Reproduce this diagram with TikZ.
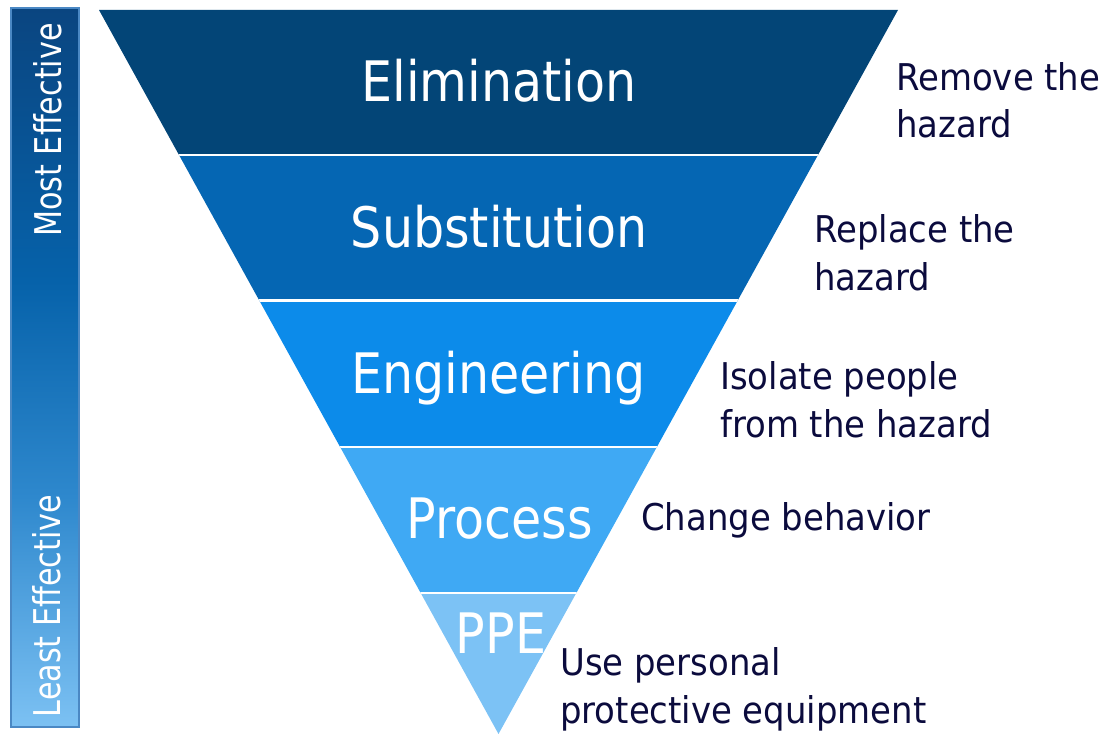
\documentclass[tikz,border=0pt]{standalone}
\usepackage{fontspec}
\setmainfont{DejaVu Sans}
\newfontfamily\titlefont[FakeStretch=0.88]{DejaVu Sans}
\newfontfamily\labelfont[FakeStretch=0.92]{DejaVu Sans}
\newfontfamily\barfont[FakeStretch=0.82]{DejaVu Sans}
\definecolor{bandA}{HTML}{034577}
\definecolor{bandB}{HTML}{0566B3}
\definecolor{bandC}{HTML}{0C8BEA}
\definecolor{bandD}{HTML}{3FA9F4}
\definecolor{bandE}{HTML}{7CC2F5}
\definecolor{labelcol}{HTML}{0B0B3D}
\definecolor{barA}{HTML}{0A4580}
\definecolor{barB}{HTML}{0662AA}
\definecolor{barC}{HTML}{2E88CD}
\definecolor{barD}{HTML}{7CC1F3}
\definecolor{barborder}{HTML}{4A88C4}
\pgfdeclareverticalshading{barshade}{100bp}{color(0bp)=(barD); color(25bp)=(barD); color(41bp)=(barC); color(56bp)=(barB); color(75bp)=(barA); color(100bp)=(barA)}
\begin{document}
\begin{tikzpicture}[x=1bp,y=-1bp,
  titletext/.style={font=\titlefont\fontsize{56}{60}\selectfont, text=white, inner sep=0, anchor=base},
  labeltext/.style={font=\labelfont\fontsize{37}{48}\selectfont, text=labelcol, inner sep=0, align=left, anchor=base west},
  bartext/.style={font=\barfont\fontsize{37}{40}\selectfont, text=white, inner sep=0, rotate=90, anchor=base},
  sep/.style={white, line width=2.5bp}]
\useasboundingbox (0,0) rectangle (1110,734);
% effectiveness bar
\shade[shading=barshade] (11,8) rectangle (79,727);
\draw[barborder, line width=1.5bp] (11,8) rectangle (79,727);
\node[bartext] (most) at (61,130) {Most Effective};
\node[bartext] (least) at (60,606) {Least Effective};
% inverted triangle
\coordinate (TL) at (99,10);
\coordinate (TR) at (898,10);
\coordinate (AP) at (498.5,734);
\begin{scope}
\clip (TL) -- (TR) -- (AP) -- cycle;
\fill[bandA] (0,0) rectangle (1110,155);
\fill[bandB] (0,155) rectangle (1110,300.5);
\fill[bandC] (0,300.5) rectangle (1110,447);
\fill[bandD] (0,447) rectangle (1110,593);
\fill[bandE] (0,593) rectangle (1110,740);
\draw[sep] (0,155) -- (1110,155);
\draw[sep] (0,300.5) -- (1110,300.5);
\draw[sep] (0,447) -- (1110,447);
\draw[sep] (0,593) -- (1110,593);
\end{scope}
% level titles
\node[titletext] (elim) at (499,101.7) {Elimination};
\node[titletext] (subs) at (499,247) {Substitution};
\node[titletext] (engi) at (498.5,393.3) {Engineering};
\node[titletext] (proc) at (499.5,538) {Process};
\node[titletext] (ppe) at (501,653) {PPE};
% descriptions (anchor = baseline of last line)
\node[labeltext] (d1) at (896,138) {Remove the\\hazard};
\node[labeltext] (d2) at (814,290) {Replace the\\hazard};
\node[labeltext] (d3) at (720,437) {Isolate people\\from the hazard};
\node[labeltext] (d4) at (641,530) {Change behavior};
\node[labeltext] (d5) at (560,723) {Use personal\\protective equipment};
\end{tikzpicture}
\end{document}
